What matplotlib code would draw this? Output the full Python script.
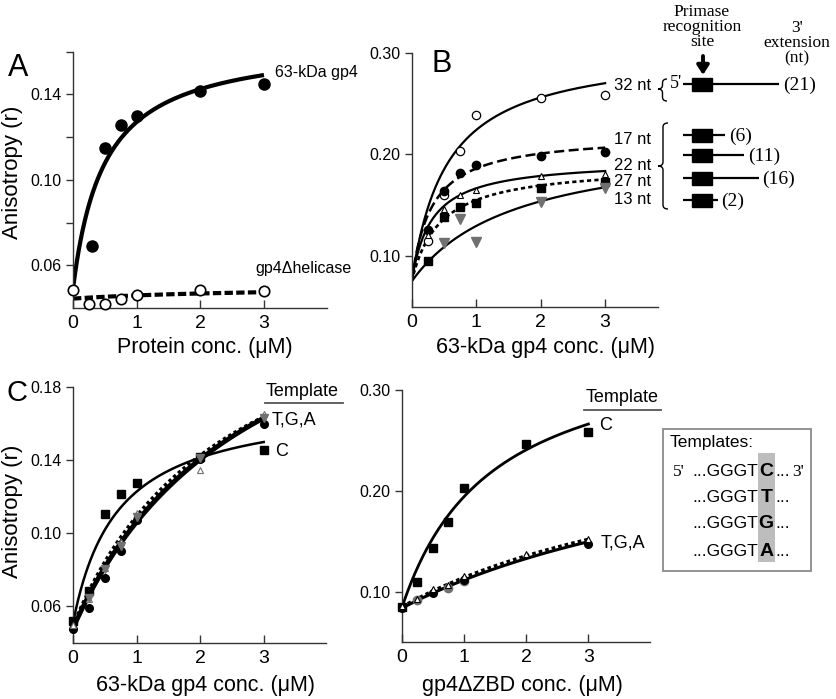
import numpy as np
import matplotlib
matplotlib.use('Agg')
import matplotlib.pyplot as plt
from matplotlib.patches import Rectangle, PathPatch
from matplotlib.path import Path

plt.rcParams['font.family'] = ['Liberation Sans', 'DejaVu Sans']
SERIF = ['Liberation Serif', 'DejaVu Serif']

W, H = 836, 699
fig = plt.figure(figsize=(8.36, 6.99), dpi=100)

# ---------------- data ----------------
# Panel A
a_gp4_x = [0.3, 0.5, 0.75, 1, 2, 3]
a_gp4_y = [0.069, 0.1148, 0.1254, 0.130, 0.1415, 0.145]
a_hel_x = [0, 0.25, 0.5, 0.75, 1, 2, 3]
a_hel_y = [0.0484, 0.0418, 0.0421, 0.0441, 0.0461, 0.0483, 0.0479]
a_fit_gp4 = [0.049, 0.1164, 0.492]   # r0, amplitude, Kd
a_fit_hel = [0.0444, 0.006, 3.0]

# Panel B
b_x = [0.25, 0.5, 0.75, 1, 2, 3]
b_32_y = [0.115, 0.160, 0.2033, 0.2386, 0.255, 0.258]
b_17_y = [0.126, 0.164, 0.182, 0.190, 0.198, 0.202]
b_22_y = [0.121, 0.146, 0.160, 0.165, 0.179, 0.1806]
b_27_y = [0.095, 0.138, 0.1485, 0.1524, 0.1666, 0.173]
b_13_x = [0.5, 0.75, 1, 2, 3]
b_13_y = [0.1125, 0.136, 0.114, 0.153, 0.1666]
b_fit_32 = [0.075, 0.2306, 0.548]
b_fit_17 = [0.075, 0.145, 0.306]
b_fit_22 = [0.075, 0.1197, 0.307]
b_fit_27 = [0.075, 0.115, 0.438]
b_fit_13 = [0.075, 0.1424, 1.612]

# Panel C (left, 63-kDa gp4)
cl_x = [0, 0.25, 0.5, 0.75, 1, 2, 3]
cl_C_y = [0.052, 0.0683, 0.1107, 0.1214, 0.1273, 0.1418, 0.1455]
cl_T_y = [0.0476, 0.0593, 0.0758, 0.0905, 0.107, 0.1404, 0.1596]
cl_G_y = [0.050, 0.064, 0.081, 0.095, 0.1112, 0.1345, 0.165]
cl_A_x = [0.25, 0.5, 0.75, 1, 2, 3]
cl_A_y = [0.0645, 0.0804, 0.093, 0.1087, 0.141, 0.1628]
cl_fit_C = [0.051, 0.122, 0.70]
cl_fit_T = [0.048, 0.2239, 2.84]
cl_fit_G = [0.049, 0.210, 2.50]
cl_fit_A = [0.048, 0.230, 3.00]

# Panel C (right, gp4dZBD)
cr_x = [0, 0.25, 0.5, 0.75, 1, 2, 3]
cr_C_y = [0.085, 0.110, 0.143, 0.169, 0.2024, 0.246, 0.258]
cr_T_x = [0, 0.5, 1, 3]
cr_T_y = [0.084, 0.099, 0.1116, 0.147]
cr_G_y = [0.086, 0.093, 0.1027, 0.107, 0.1155, 0.1373, 0.152]
cr_A_x = [0.25, 0.75, 1]
cr_A_y = [0.092, 0.104, 0.111]
cr_fit_C = [0.0836, 0.2707, 1.452]
cr_fit_T = [0.0836, 0.205, 6.33]
cr_fit_G = [0.085, 0.190, 5.5]

conc_ticks = [0, 1, 2, 3]
template_rows = ['C', 'T', 'G', 'A']
ext_rows = [('17 nt', '(6)'), ('22 nt', '(11)'), ('27 nt', '(16)'), ('13 nt', '(2)')]


def hyper(p, x):
    r0, amp, kd = p
    return r0 + amp * x / (kd + x)


xs = np.linspace(0, 3, 300)
GRAY = '#707070'
SPC = '#333333'


def make_ax(l, t, r, b, xlim, ylim, yticks, ylabels):
    ax = fig.add_axes([l / W, 1 - b / H, (r - l) / W, (b - t) / H])
    ax.set_facecolor('none')
    for s in ['top', 'right']:
        ax.spines[s].set_visible(False)
    for s in ['left', 'bottom']:
        ax.spines[s].set_linewidth(1.0)
        ax.spines[s].set_color(SPC)
    ax.set_xlim(*xlim)
    ax.set_ylim(*ylim)
    ax.set_xticks(conc_ticks)
    ax.set_xticklabels([str(v) for v in conc_ticks])
    ax.set_yticks(yticks)
    ax.set_yticklabels(ylabels)
    ax.tick_params(axis='x', direction='in', length=6, width=1, color=SPC, labelsize=14, pad=5)
    ax.tick_params(axis='y', direction='out', length=5, width=1, color=SPC, labelsize=11.5, pad=3)
    return ax


# ---------------- Panel A ----------------
axA = make_ax(73, 51.5, 327, 308, (0, 3.99), (0.04, 0.16),
              [0.06, 0.08, 0.10, 0.12, 0.14, 0.16], ['0.06', '', '0.10', '', '0.14', ''])
axA.plot(xs, hyper(a_fit_gp4, xs), color='k', lw=3.0, solid_capstyle='butt', zorder=2)
axA.plot(xs, hyper(a_fit_hel, xs), color='k', lw=3.0, ls=(0, (2.0, 0.8)), zorder=2)
axA.plot(a_gp4_x, a_gp4_y, 'o', color='k', ms=8, zorder=3, clip_on=False)
axA.plot(a_hel_x, a_hel_y, 'o', mfc='white', mec='k', mew=1.2, ms=7.5, zorder=3, clip_on=False)

# ---------------- Panel B ----------------
axB = make_ax(411.7, 52.7, 658, 306.8, (0, 3.82), (0.05, 0.30),
              [0.10, 0.20, 0.30], ['0.10', '0.20', '0.30'])
axB.plot(xs, hyper(b_fit_32, xs), color='k', lw=1.6, zorder=2)
axB.plot(xs, hyper(b_fit_17, xs), color='k', lw=1.8, ls=(0, (4.0, 1.8)), zorder=2)
axB.plot(xs, hyper(b_fit_22, xs), color='k', lw=1.6, zorder=2)
axB.plot(xs, hyper(b_fit_27, xs), color='k', lw=1.9, ls=(0, (1.6, 1.2)), zorder=2)
axB.plot(xs, hyper(b_fit_13, xs), color='k', lw=1.6, zorder=2)
axB.plot(b_x, b_32_y, 'o', mfc='white', mec='k', mew=0.9, ms=6, zorder=3)
axB.plot(b_x, b_17_y, 'o', color='k', ms=6, zorder=3)
axB.plot(b_x, b_22_y, '^', mfc='white', mec='k', mew=0.8, ms=5, zorder=3)
axB.plot(b_x, b_27_y, 's', color='k', ms=5.5, zorder=3)
axB.plot(b_13_x, b_13_y, 'v', color=GRAY, ms=6.5, zorder=3)

# ---------------- Panel C left ----------------
axCL = make_ax(73, 387, 326, 643, (0, 3.98), (0.04, 0.18),
               [0.06, 0.10, 0.14, 0.18], ['0.06', '0.10', '0.14', '0.18'])
axCL.plot(xs, hyper(cl_fit_A, xs), color=GRAY, lw=2.6, zorder=2)
axCL.plot(xs, hyper(cl_fit_T, xs), color='k', lw=3.4, zorder=2)
axCL.plot(xs, hyper(cl_fit_G, xs), color='k', lw=3.0, ls=(0, (0.8, 0.7)), zorder=2)
axCL.plot(xs, hyper(cl_fit_C, xs), color='k', lw=1.8, zorder=2)
axCL.plot(cl_x, cl_C_y, 's', color='k', ms=5.5, zorder=3, clip_on=False)
axCL.plot(cl_x, cl_T_y, 'o', color='k', ms=5.5, zorder=3, clip_on=False)
axCL.plot(cl_x, cl_G_y, '^', mfc='white', mec=GRAY, mew=0.8, ms=5, zorder=3, clip_on=False)
axCL.plot(cl_A_x, cl_A_y, 'v', color=GRAY, ms=6, zorder=3, clip_on=False)

# ---------------- Panel C right ----------------
axCR = make_ax(401.7, 389.7, 650, 642.2, (0, 3.99), (0.05, 0.30),
               [0.10, 0.20, 0.30], ['0.10', '0.20', '0.30'])
axCR.plot(xs, hyper(cr_fit_C, xs), color='k', lw=2.0, zorder=2)
axCR.plot(xs, hyper(cr_fit_T, xs), color='k', lw=2.2, zorder=2)
axCR.plot(xs, hyper(cr_fit_G, xs), color='k', lw=2.2, ls=(0, (1.2, 1.0)), zorder=2)
axCR.plot(cr_x, cr_C_y, 's', color='k', ms=6, zorder=3, clip_on=False)
axCR.plot(cr_A_x, cr_A_y, 'o', color=GRAY, ms=6, zorder=3, clip_on=False)
axCR.plot(cr_T_x, cr_T_y, 'o', color='k', ms=5.5, zorder=3, clip_on=False)
axCR.plot(cr_x, cr_G_y, '^', mfc='white', mec='k', mew=0.8, ms=5, zorder=3, clip_on=False)

# ---------------- overlay (annotations in pixel space) ----------------
ov = fig.add_axes([0, 0, 1, 1], zorder=10)
ov.set_xlim(0, W)
ov.set_ylim(H, 0)
ov.set_axis_off()
ov.patch.set_visible(False)


def t(x, y, s, size=12, ha='left', va='center', **kw):
    ov.text(x, y, s, fontsize=size, ha=ha, va=va, **kw)


# panel letters
t(18, 68, 'A', 22, ha='center')
t(442, 64, 'B', 22, ha='center')
t(17, 393, 'C', 21, ha='center')

# axis labels
t(13, 172, 'Anisotropy (r)', 16, ha='center', rotation=90)
t(13, 511, 'Anisotropy (r)', 16, ha='center', rotation=90)
t(205, 347, 'Protein conc. (\u03bcM)', 15.5, ha='center')
t(546, 347, '63-kDa gp4 conc. (\u03bcM)', 15.5, ha='center')
t(205, 685, '63-kDa gp4 conc. (\u03bcM)', 15.5, ha='center')
t(522, 685, 'gp4\u0394ZBD conc. (\u03bcM)', 15.5, ha='center')

# panel A curve labels
t(275, 73, '63-kDa gp4', 11.5)
t(255, 268, 'gp4\u0394helicase', 11.5)

# panel B curve labels
t(614, 85, '32 nt', 12)
for (lab, _), y in zip(ext_rows, [139, 166, 182, 199]):
    t(614, y, lab, 12)


def brace(x_end, x_tip, y0, y1, ym, lw=1.0):
    xv = (x_end + x_tip) / 2.0
    r = 4.0
    verts = [(x_end, y0), (xv, y0), (xv, y0 + r),
             (xv, ym - r), (xv, ym), (x_tip, ym),
             (xv, ym), (xv, ym + r),
             (xv, y1 - r), (xv, y1), (x_end, y1)]
    codes = [Path.MOVETO, Path.CURVE3, Path.CURVE3,
             Path.LINETO, Path.CURVE3, Path.CURVE3,
             Path.CURVE3, Path.CURVE3,
             Path.LINETO, Path.CURVE3, Path.CURVE3]
    ov.add_patch(PathPatch(Path(verts, codes), fill=False, lw=lw, color='k'))


brace(667, 658, 79, 101, 89)
brace(668, 658, 123, 209, 166)

# diagram header
t(702, 27, 'Primase\nrecognition\nsite', 12.5, ha='center', family=SERIF, linespacing=0.95)
t(797, 43, "3'\nextension\n(nt)", 12.5, ha='center', family=SERIF, linespacing=0.95)
ov.annotate('', xy=(703, 75), xytext=(703, 56),
            arrowprops=dict(arrowstyle='-|>,head_width=0.35,head_length=0.55',
                            lw=2.8, color='k', shrinkA=0, shrinkB=0))

# diagram rows
t(670, 84, "5'", 13, family=SERIF)
rows = [(84, 779, '(21)', 783)] + [
    (135, 725, ext_rows[0][1], 729),
    (155, 744, ext_rows[1][1], 748),
    (178, 759, ext_rows[2][1], 762),
    (200, 718, ext_rows[3][1], 721)]
for y, xend, lab, xl in rows:
    ov.plot([682.5, xend], [y, y], color='k', lw=1.6, solid_capstyle='butt')
    ov.add_patch(Rectangle((692, y - 6.5), 20, 13, color='k'))
    t(xl, y + 1, lab, 14, family=SERIF)

# panel C template headers
t(302, 392, 'Template', 13, ha='center')
ov.plot([265, 343], [403, 403], color='#555555', lw=1.3)
t(272, 420, 'T,G,A', 13)
t(275, 451, 'C', 13)
t(622, 398, 'Template', 13, ha='center')
ov.plot([584, 661], [410, 410], color='#555555', lw=1.3)
t(599, 425, 'C', 13)
t(601, 543, 'T,G,A', 13)

# templates inset
ov.add_patch(Rectangle((662.7, 429.3), 148, 141.4, fill=False, ec='#8a8a8a', lw=1.3))
ov.add_patch(Rectangle((757.7, 453), 17.3, 109.3, color='#bdbdbd', lw=0))
t(670, 443, 'Templates:', 12.5)
for i, (base, y) in enumerate(zip(template_rows, [472, 497, 524, 551])):
    if i == 0:
        t(673, y, "5'", 12.5, family=SERIF)
        t(792, y, "3'", 12.5, family=SERIF)
    t(757.7, y, '...GGGT', 12.5, ha='right')
    t(766.3, y, base, 14, ha='center', weight='bold')
    t(775, y, '...', 12.5)

fig.savefig('out.png', dpi=100)
